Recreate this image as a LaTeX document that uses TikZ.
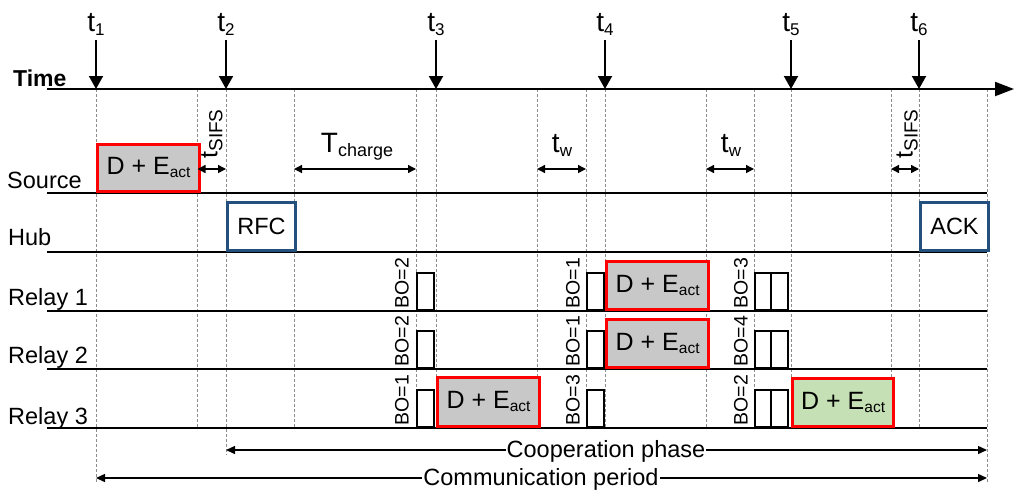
\documentclass[tikz,border=0pt]{standalone}
\usepackage{fontspec}
\setmainfont{Liberation Sans}
\usetikzlibrary{arrows.meta}
\definecolor{pktred}{RGB}{255,0,0}
\definecolor{pktgray}{RGB}{200,200,200}
\definecolor{pktgreen}{RGB}{197,224,180}
\definecolor{ctrlblue}{RGB}{35,80,125}
\definecolor{guidegray}{RGB}{140,140,140}
\newcommand{\fs}[1]{\fontsize{#1}{#1}\selectfont}
\newcommand{\subt}[1]{\raisebox{-4pt}{\fs{17}#1}}
\newcommand{\subact}{\raisebox{-3pt}{\fs{15.5}act}}
\begin{document}
\begin{tikzpicture}[x=1pt,y=-1pt,
  lane/.style={line width=2pt},
  guide/.style={draw=guidegray, line width=1pt, dash pattern=on 3pt off 2pt},
  pkt/.style={draw=pktred, line width=3.2pt, fill=pktgray, inner sep=0pt, anchor=south west, font=\fs{25}},
  ctrl/.style={draw=ctrlblue, line width=3pt, fill=white, inner sep=0pt, anchor=south west, font=\fs{23.5}, minimum width=68pt, minimum height=48pt},
  slot/.style={draw=black, line width=2pt, fill=white, inner sep=0pt, anchor=south west, minimum width=17pt, minimum height=37pt},
  bolabel/.style={rotate=90, font=\fs{19.5}, inner sep=0pt},
  lanelabel/.style={anchor=base west, font=\fs{23.5}, inner sep=0pt},
  tmark/.style={-{Triangle[length=13pt,width=14pt]}, line width=2pt},
  tlabel/.style={anchor=base, font=\fs{28}, inner sep=0pt},
  dur/.style={{Triangle[length=8pt,width=8pt]}-{Triangle[length=8pt,width=8pt]}, line width=1.4pt},
  spanarrow/.style={{Triangle[length=9pt,width=8pt]}-{Triangle[length=9pt,width=8pt]}, line width=1.4pt},
]
\useasboundingbox (0,0) rectangle (1024,499);

% dashed guides
\foreach \x/\yb [count=\i] in {96/483,197.5/428,226/455,294/428,416/428,436/428,537/428,586/428,605/428,706/428,754/428,791/428,891/428,919/428,987/483}{
  \coordinate (gt\i) at (\x,89);
  \coordinate (gb\i) at (\x,\yb);
  \draw[guide] (gt\i) -- (gb\i);
}

% time axis
\coordinate (axs) at (47,89);
\coordinate (axe) at (1014,89);
\draw[line width=2pt, -{Triangle[length=19pt,width=14pt]}] (axs) -- (axe);
\node[anchor=base west, inner sep=0pt, font=\fs{23}\bfseries] (timelbl) at (13,86) {Time};

% time marks
\foreach \x/\n in {96/1,226/2,436/3,605/4,791/5,919/6}{
  \node[tlabel] (tl\n) at (\x,31) {t\subt{\n}};
  \coordinate (ts\n) at (\x,40);
  \coordinate (tm\n) at (\x,89);
  \draw[tmark] (ts\n) -- (tm\n);
}

% lanes
\foreach \y/\n in {193/src,252/hub,311/ra,369/rb,428/rc}{
  \coordinate (\n s) at (47,\y);
  \coordinate (\n e) at (987,\y);
  \draw[lane] (\n s) -- (\n e);
}
\node[lanelabel] (lsrc) at (7,188) {Source};
\node[lanelabel] (lhub) at (8,245) {Hub};
\node[lanelabel] (lra) at (8,305) {Relay 1};
\node[lanelabel] (lrb) at (8,363) {Relay 2};
\node[lanelabel] (lrc) at (8,424) {Relay 3};

% packets
\node[pkt, minimum width=102pt, minimum height=47pt] (srcpkt) at (96,193) {D + E\subact};
\node[ctrl] (rfc) at (226,252) {RFC};
\node[ctrl] (ack) at (919,252) {ACK};
\node[pkt, minimum width=102pt, minimum height=48pt] (rapkt) at (605,311) {D + E\subact};
\node[pkt, minimum width=102pt, minimum height=48pt] (rbpkt) at (605,369) {D + E\subact};
\node[pkt, minimum width=102pt, minimum height=49pt] (rcpkt) at (436,428) {D + E\subact};
\node[pkt, fill=pktgreen, minimum width=101pt, minimum height=48pt] (rcgreen) at (791,428) {D + E\subact};

% backoff slots
\foreach \y/\n in {311/a,369/b,428/c}{
  \node[slot] (s1\n) at (416,\y) {};
  \node[slot] (s2\n) at (586,\y) {};
  \node[slot] (s3\n) at (754,\y) {};
  \node[slot] (s4\n) at (770,\y) {};
}
\node[bolabel] (boa1) at (402,283) {BO=2};
\node[bolabel] (boa2) at (573,283) {BO=1};
\node[bolabel] (boa3) at (741,283) {BO=3};
\node[bolabel] (bob1) at (402,341) {BO=2};
\node[bolabel] (bob2) at (573,341) {BO=1};
\node[bolabel] (bob3) at (741,341) {BO=4};
\node[bolabel] (boc1) at (402,400) {BO=1};
\node[bolabel] (boc2) at (573,400) {BO=3};
\node[bolabel] (boc3) at (741,400) {BO=2};

% durations
\coordinate (d1a) at (197.5,169); \coordinate (d1b) at (226,169);
\coordinate (d2a) at (294,169);   \coordinate (d2b) at (416,169);
\coordinate (d3a) at (537,169);   \coordinate (d3b) at (586,169);
\coordinate (d4a) at (706,169);   \coordinate (d4b) at (754,169);
\coordinate (d5a) at (891,169);   \coordinate (d5b) at (919,169);
\draw[dur] (d1a) -- (d1b);
\draw[dur] (d2a) -- (d2b);
\draw[dur] (d3a) -- (d3b);
\draw[dur] (d4a) -- (d4b);
\draw[dur] (d5a) -- (d5b);
\node[rotate=90, inner sep=0pt] (sifs1) at (212,134) {\fs{25}t\raisebox{-5pt}{\fs{19}SIFS}};
\node[rotate=90, inner sep=0pt] (sifs2) at (907,134) {\fs{25}t\raisebox{-5pt}{\fs{19}SIFS}};
\node[tlabel] (tch) at (357,152) {T\raisebox{-4pt}{\fs{18}charge}};
\node[tlabel] (tw1) at (562,152) {t\subt{w}};
\node[tlabel] (tw2) at (731,152) {t\subt{w}};

% phases
\coordinate (cpa) at (226,450); \coordinate (cpb) at (987,450);
\coordinate (cma) at (96,478);  \coordinate (cmb) at (987,478);
\draw[spanarrow] (cpa) -- (cpb);
\draw[spanarrow] (cma) -- (cmb);
\node[anchor=base, fill=white, inner xsep=1pt, inner ysep=0pt, font=\fs{23.5}] (coop) at (606,457) {Cooperation phase};
\node[anchor=base, fill=white, inner xsep=1pt, inner ysep=0pt, font=\fs{23.5}] (comm) at (541,485) {Communication period};
\end{tikzpicture}
\end{document}
